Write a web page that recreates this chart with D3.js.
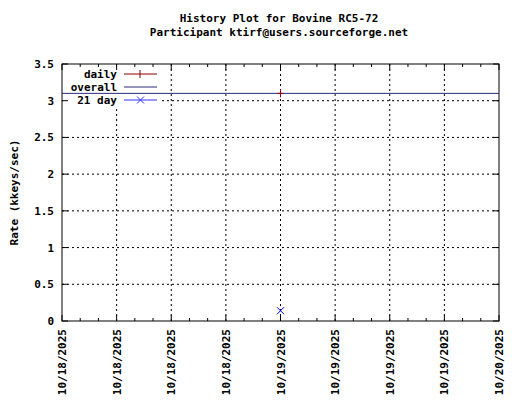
<!DOCTYPE html>
<html><head><meta charset="utf-8">
<script src="https://cdn.jsdelivr.net/npm/d3@7"></script>
<style>body{margin:0;background:#fff}text{font-family:"DejaVu Sans Mono",monospace;font-weight:bold;font-size:11px}</style>
</head><body><div id="chart"></div>
<script>
// DATA
const yTicks = [0, 0.5, 1, 1.5, 2, 2.5, 3, 3.5]
const xStart = new Date(2025, 9, 18, 0, 0)
const xEnd = new Date(2025, 9, 20, 0, 0)
const dailyDates = [new Date(2025, 9, 19, 0, 0)]
const dailyValues = [3.1]
const overallValue = 3.1
const day21Dates = [new Date(2025, 9, 19, 0, 0)]
const day21Values = [0.14]

const margin = { left: 62, right: 21, top: 64, bottom: 79 }
const width = 520 - margin.left - margin.right
const height = 400 - margin.top - margin.bottom

const svg = d3.select("#chart").append("svg").attr("width", 520).attr("height", 400)
const chart = svg.append("g").attr("transform", "translate(" + margin.left + "," + margin.top + ")")

const x = d3.scaleTime().domain([xStart, xEnd]).range([0, width])
const y = d3.scaleLinear().domain([0, 3.5]).range([height, 0])
const fmt = d3.timeFormat("%m/%d/%Y")
const xMajor = d3.timeHour.every(6).range(xStart, new Date(+xEnd + 1))
const xMinor = d3.timeHour.every(2).range(xStart, new Date(+xEnd + 1))

// grid
chart.selectAll(".gx").data(xMajor.slice(1, -1)).enter().append("line")
  .attr("x1", d => x(d)).attr("x2", d => x(d)).attr("y1", 0).attr("y2", height)
  .attr("stroke", "#000").attr("stroke-dasharray", "2,3")
chart.selectAll(".gy").data(yTicks.slice(1, -1)).enter().append("line")
  .attr("x1", 0).attr("x2", width).attr("y1", d => y(d)).attr("y2", d => y(d))
  .attr("stroke", "#000").attr("stroke-dasharray", "2,3")

// legend background hides grid
chart.append("rect").attr("x", 1).attr("y", 1).attr("width", 96).attr("height", 42).attr("fill", "#fff")

// ticks
chart.selectAll(".tx").data(xMinor).enter().append("line")
  .attr("x1", d => x(d)).attr("x2", d => x(d))
  .attr("y1", height).attr("y2", (d, i) => height - (i % 3 === 0 ? 6 : 3)).attr("stroke", "#000")
chart.selectAll(".tx2").data(xMinor).enter().append("line")
  .attr("x1", d => x(d)).attr("x2", d => x(d))
  .attr("y1", 0).attr("y2", (d, i) => (i % 3 === 0 ? 6 : 3)).attr("stroke", "#000")
chart.selectAll(".ty").data(yTicks).enter().append("line")
  .attr("x1", 0).attr("x2", 6).attr("y1", d => y(d)).attr("y2", d => y(d)).attr("stroke", "#000")
chart.selectAll(".ty2").data(yTicks).enter().append("line")
  .attr("x1", width - 6).attr("x2", width).attr("y1", d => y(d)).attr("y2", d => y(d)).attr("stroke", "#000")

chart.append("rect").attr("width", width).attr("height", height)
  .attr("fill", "none").attr("stroke", "#000")

// labels
chart.selectAll(".ly").data(yTicks).enter().append("text")
  .attr("x", -8).attr("y", d => y(d) + 4).attr("text-anchor", "end").text(d => d)
chart.selectAll(".lx").data(xMajor).enter().append("text")
  .attr("transform", d => "translate(" + (x(d) + 4) + "," + (height + 8) + ") rotate(-90)")
  .attr("text-anchor", "end").text(d => fmt(d))

svg.append("text").attr("x", 279).attr("y", 22).attr("text-anchor", "middle").text("History Plot for Bovine RC5-72")
svg.append("text").attr("x", 279).attr("y", 36).attr("text-anchor", "middle").text("Participant ktirf@users.sourceforge.net")
svg.append("text").attr("transform", "translate(18," + (margin.top + height / 2) + ") rotate(-90)")
  .attr("text-anchor", "middle").text("Rate (kkeys/sec)")

// series
chart.append("line").attr("x1", 0).attr("x2", width)
  .attr("y1", y(overallValue)).attr("y2", y(overallValue)).attr("stroke", "#2a2a80")
dailyDates.forEach((d, i) => {
  chart.append("line").attr("x1", x(d) - 3).attr("x2", x(d) + 3)
    .attr("y1", y(dailyValues[i])).attr("y2", y(dailyValues[i])).attr("stroke", "#8b0000")
  chart.append("line").attr("x1", x(d)).attr("x2", x(d))
    .attr("y1", y(dailyValues[i]) - 4).attr("y2", y(dailyValues[i]) + 4).attr("stroke", "#8b0000")
})
day21Dates.forEach((d, i) => {
  const cx = x(d), cy = y(day21Values[i])
  chart.append("path").attr("d", `M${cx-3.5},${cy-3.5}L${cx+3.5},${cy+3.5}M${cx-3.5},${cy+3.5}L${cx+3.5},${cy-3.5}`)
    .attr("stroke", "#0000ff").attr("fill", "none")
})

// legend
const legend = [
  { label: "daily", color: "#8b0000", mark: "+" },
  { label: "overall", color: "#2a2a80", mark: "" },
  { label: "21 day", color: "#3030ff", mark: "x" }
]
legend.forEach((l, i) => {
  const ly = 10 + i * 13
  chart.append("text").attr("x", 55).attr("y", ly + 4).attr("text-anchor", "end").text(l.label)
  chart.append("line").attr("x1", 62).attr("x2", 95).attr("y1", ly).attr("y2", ly).attr("stroke", l.color)
  if (l.mark === "+") {
    chart.append("line").attr("x1", 78).attr("x2", 78).attr("y1", ly - 4).attr("y2", ly + 4).attr("stroke", l.color)
  } else if (l.mark === "x") {
    chart.append("path").attr("d", `M75,${ly-3.5}L82,${ly+3.5}M75,${ly+3.5}L82,${ly-3.5}`).attr("stroke", l.color)
  }
})
</script>
</body></html>
